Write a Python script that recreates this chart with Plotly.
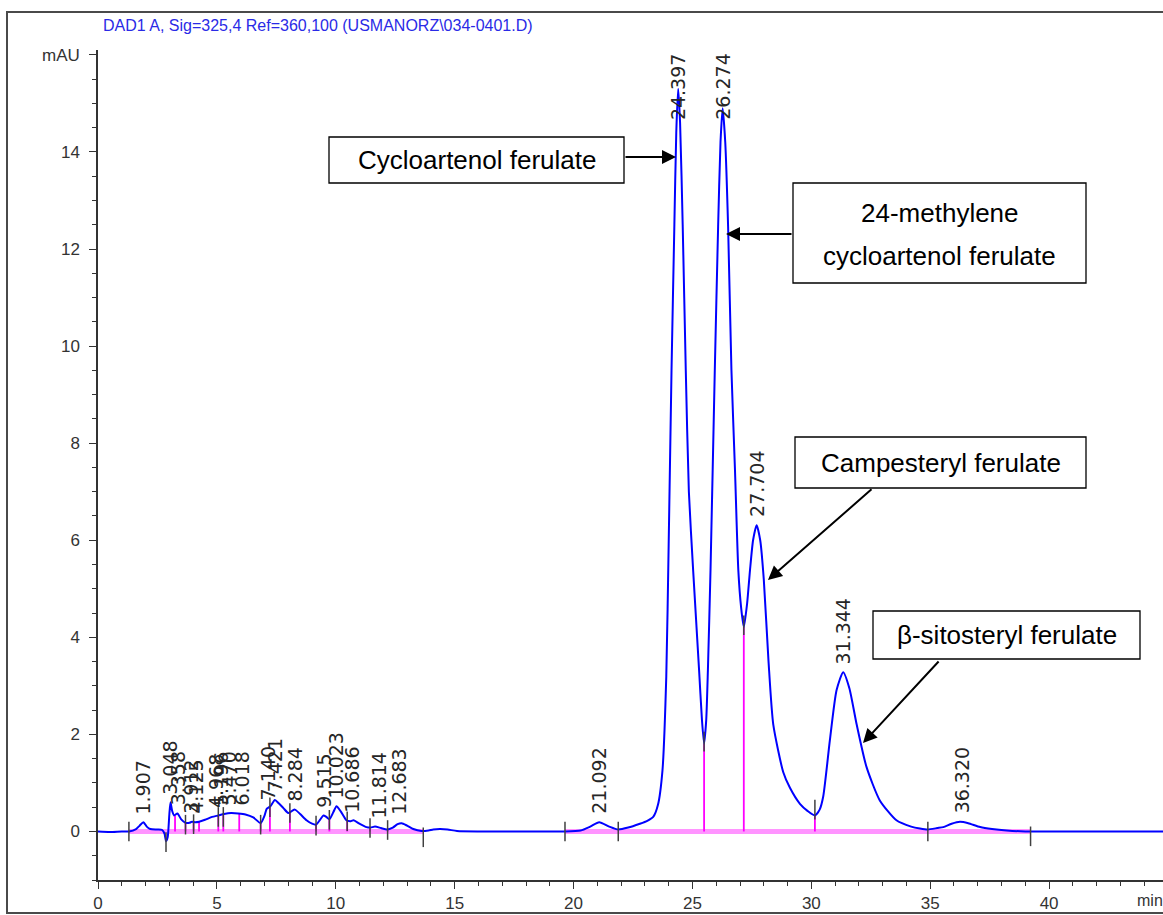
import plotly.graph_objects as go

# ---- chromatogram trace (retention time in min, signal in mAU) ----
time_min = [
    0.0, 0.5, 1.0, 1.3, 1.6, 1.75, 1.91, 2.05, 2.2, 2.5, 2.7, 2.8, 2.86, 2.93,
    3.0, 3.05, 3.12, 3.2, 3.34, 3.5, 3.68, 3.85, 3.95, 4.1, 4.25, 4.5, 4.8,
    5.06, 5.3, 5.6, 5.9, 6.2, 6.53, 6.84, 7.0, 7.1, 7.25, 7.44, 7.6, 7.8, 8.0,
    8.15, 8.28, 8.5, 8.77, 9.0, 9.17, 9.35, 9.48, 9.6, 9.73, 9.9, 10.03, 10.2,
    10.45, 10.6, 10.75, 11.0, 11.29, 11.46, 11.65, 11.9, 12.15, 12.4, 12.6,
    12.77, 13.0, 13.26, 13.6, 13.9, 14.1, 14.38, 14.7, 15.1, 16.0, 17.0, 18.0,
    19.0, 19.6, 20.3, 20.7, 21.08, 21.5, 21.88, 22.3, 22.79, 23.1, 23.35, 23.55,
    23.74, 23.9, 24.0, 24.12, 24.24, 24.32, 24.40, 24.48, 24.59, 24.72, 24.85,
    25.03, 25.28, 25.40, 25.49, 25.58, 25.65, 25.76, 25.94, 26.08, 26.18, 26.27,
    26.38, 26.5, 26.64, 26.79, 26.93, 27.05, 27.16, 27.3, 27.42, 27.55, 27.70,
    27.85, 28.0, 28.2, 28.4, 28.82, 29.1, 29.52, 29.85, 30.15, 30.35, 30.5,
    30.78, 31.06, 31.34, 31.6, 31.9, 32.32, 32.88, 33.58, 34.2, 34.57, 34.9,
    35.3, 35.55, 35.9, 36.25, 36.6, 37.1, 37.6, 38.21, 39.0, 40.0, 42.0, 44.8,
]
signal_mau = [
    0.0, -0.01, 0.0, 0.0, 0.05, 0.12, 0.19, 0.10, 0.05, 0.04, 0.03, -0.05, -0.20, -0.12,
    0.35, 0.60, 0.42, 0.33, 0.37, 0.25, 0.18, 0.18, 0.20, 0.19, 0.20, 0.24, 0.30,
    0.33, 0.36, 0.38, 0.37, 0.35, 0.29, 0.17, 0.32, 0.47, 0.52, 0.65, 0.58, 0.48, 0.38,
    0.42, 0.45, 0.36, 0.23, 0.16, 0.14, 0.25, 0.33, 0.30, 0.25, 0.40, 0.52, 0.42,
    0.23, 0.21, 0.23, 0.16, 0.09, 0.08, 0.10, 0.07, 0.04, 0.08, 0.15,
    0.17, 0.12, 0.05, 0.01, 0.02, 0.04, 0.05, 0.04, 0.01, 0.0, 0.0, 0.0,
    0.0, 0.0, 0.02, 0.10, 0.19, 0.10, 0.04, 0.08, 0.16, 0.22, 0.30, 0.55,
    1.26, 3.2, 5.9, 9.5, 12.5, 14.4, 15.3, 14.6, 12.5, 9.5, 7.0,
    5.38, 3.32, 2.3, 1.81, 2.3, 3.32, 5.38, 9.5, 12.46, 14.2, 14.9,
    14.2, 12.46, 9.5, 7.44, 5.38, 4.6, 4.21, 4.7, 5.38, 6.0, 6.31,
    6.0, 5.2, 3.5, 2.2, 1.22, 0.9, 0.57, 0.42, 0.33, 0.45, 0.72,
    1.88, 2.91, 3.28, 2.95, 2.22, 1.33, 0.64, 0.23, 0.10, 0.06, 0.04,
    0.07, 0.09, 0.16, 0.20, 0.17, 0.09, 0.05, 0.02, 0.0, 0.0, 0.0, 0.0,
]

# ---- integration: baseline segments, peak boundaries, event marks ----
baseline_start = [1.30, 19.64]
baseline_end = [13.68, 39.22]
drop_time = [3.24, 3.68, 4.02, 4.25, 5.06, 5.27, 5.94, 6.84, 7.23, 8.07,
             9.17, 9.73, 10.48, 11.44, 12.18, 25.49, 27.16, 30.15]
drop_height = [0.33, 0.18, 0.19, 0.20, 0.33, 0.36, 0.37, 0.17, 0.50, 0.38,
               0.14, 0.25, 0.23, 0.08, 0.05, 1.81, 4.21, 0.33]
event_time = [1.30, 2.86, 3.68, 4.02, 5.06, 5.27, 6.84, 7.23, 8.07, 9.17, 9.73,
              10.48, 11.44, 12.18, 13.68, 19.64, 21.88, 25.49, 27.16, 30.15,
              34.90, 39.22]
event_level = [0.0, -0.22, 0.14, 0.15, 0.30, 0.30, 0.14, 0.50, 0.38, 0.12, 0.24,
               0.21, 0.07, 0.03, -0.12, 0.0, 0.0, 1.85, 4.25, 0.45, 0.0, -0.10]

# ---- peak retention-time labels ----
peak_rt = [1.907, 3.048, 3.358, 3.912, 4.125, 4.968, 5.196, 5.470, 6.018,
           7.140, 7.421, 8.284, 9.515, 10.023, 10.686, 11.814, 12.683,
           21.092, 24.397, 26.274, 27.704, 31.344, 36.320]
peak_height = [0.19, 0.60, 0.37, 0.20, 0.20, 0.32, 0.35, 0.37, 0.37,
               0.47, 0.65, 0.45, 0.33, 0.52, 0.22, 0.10, 0.17,
               0.19, 15.3, 14.9, 6.31, 3.28, 0.20]

# ---- compound call-outs ----
compound_names = ["Cycloartenol ferulate", "24-methylene<br>cycloartenol ferulate",
                  "Campesteryl ferulate", "β-sitosteryl ferulate"]

y_tick_vals = [0, 2, 4, 6, 8, 10, 12, 14, 16]
y_tick_text = ["0", "2", "4", "6", "8", "10", "12", "14", "mAU"]
x_tick_vals = [0, 5, 10, 15, 20, 25, 30, 35, 40]

# ---- page geometry ----
W, H = 1163, 915
ML, MR, MT, MB = 98, 0, 50, 35
X_RANGE = [0, 44.79]
Y_RANGE = [-1, 16.1]
PW, PH = W - ML - MR, H - MT - MB


def dx(px):
    return X_RANGE[0] + (px - ML) / PW * (X_RANGE[1] - X_RANGE[0])


def dy(py):
    return Y_RANGE[1] - (py - MT) / PH * (Y_RANGE[1] - Y_RANGE[0])


def paper_x(px):
    return (px - ML) / PW


def paper_y(py):
    return 1 - (py - MT) / PH


SANS = "Liberation Sans, Arial, sans-serif"
LABEL_FONT = "DejaVu Sans, sans-serif"

fig = go.Figure()

# integration baseline
bx, by = [], []
for s, e in zip(baseline_start, baseline_end):
    bx += [s, e, None]
    by += [0, 0, None]
fig.add_trace(go.Scatter(x=bx, y=by, mode="lines",
                         line=dict(color="rgba(255,60,255,0.55)", width=5),
                         hoverinfo="skip", showlegend=False))

# peak boundary drop lines
lx, ly = [], []
for t, h in zip(drop_time, drop_height):
    lx += [t, t, None]
    ly += [0, h, None]
fig.add_trace(go.Scatter(x=lx, y=ly, mode="lines",
                         line=dict(color="#ff00ff", width=1.8),
                         hoverinfo="skip", showlegend=False))

# detector signal
fig.add_trace(go.Scatter(x=time_min, y=signal_mau, mode="lines",
                         line=dict(color="#0000ff", width=2, shape="spline", smoothing=0.6),
                         showlegend=False))

# integration event marks
fig.add_trace(go.Scatter(x=event_time, y=event_level, mode="markers",
                         marker=dict(symbol="line-ns", size=14,
                                     line=dict(color="#404040", width=1.5)),
                         hoverinfo="skip", showlegend=False))

annotations = []

# retention-time labels above each peak
for rt, h in zip(peak_rt, peak_height):
    if h > 14:
        annotations.append(dict(x=rt, y=Y_RANGE[1], xref="x", yref="y",
                                text=f"{rt:.3f}", textangle=-90, showarrow=False,
                                xanchor="center", yanchor="top", yshift=-2,
                                font=dict(family=LABEL_FONT, size=19, color="#262626")))
    else:
        annotations.append(dict(x=rt, y=h, xref="x", yref="y",
                                text=f"{rt:.3f}", textangle=-90, showarrow=False,
                                xanchor="center", yanchor="bottom", yshift=6,
                                font=dict(family=LABEL_FONT, size=19, color="#262626")))

# call-out boxes (pixel extents) and their text positions
boxes = [(329, 137, 624, 183), (793, 183, 1086, 283),
         (795, 437, 1086, 488), (873, 611, 1140, 659)]
shapes = []
for (x0, y0, x1, y1), name in zip(boxes, compound_names):
    shapes.append(dict(type="rect", xref="x", yref="y",
                       x0=dx(x0), x1=dx(x1), y0=dy(y1), y1=dy(y0),
                       line=dict(color="black", width=1.3), fillcolor="white", layer="above"))
    lines = name.split("<br>")
    cx = (x0 + x1) / 2
    if len(lines) == 1:
        centers = [(y0 + y1) / 2]
    else:
        centers = [213, 256]
    for txt, cy in zip(lines, centers):
        annotations.append(dict(x=dx(cx), y=dy(cy), xref="x", yref="y", text=txt,
                                showarrow=False, xanchor="center", yanchor="middle",
                                font=dict(family=SANS, size=26, color="black")))

# arrows from call-outs to peaks: (tail px, tip px)
arrows = [((624, 157), (676, 157)), ((793, 234), (726, 234)),
          ((873, 488), (768, 580)), ((940, 660), (863, 743))]
for (tx0, ty0), (tx1, ty1) in arrows:
    annotations.append(dict(x=dx(tx1), y=dy(ty1), ax=dx(tx0), ay=dy(ty0),
                            xref="x", yref="y", axref="x", ayref="y", text="",
                            showarrow=True, arrowhead=2, arrowsize=1.4, arrowwidth=2,
                            arrowcolor="black"))

# header line
annotations.append(dict(x=paper_x(101), y=paper_y(25), xref="paper", yref="paper",
                        text="DAD1 A, Sig=325,4 Ref=360,100 (USMANORZ\\034-0401.D)",
                        showarrow=False, xanchor="left", yanchor="middle",
                        font=dict(family=SANS, size=16, color="#2a2ae6")))
# x-axis unit
annotations.append(dict(x=paper_x(1135), y=paper_y(900), xref="paper", yref="paper",
                        text="min", showarrow=False, xanchor="left", yanchor="middle",
                        font=dict(family=SANS, size=16, color="#333333")))

# outer frame
shapes.append(dict(type="rect", xref="paper", yref="paper",
                   x0=paper_x(7), x1=paper_x(1180), y0=paper_y(913), y1=paper_y(12),
                   line=dict(color="#4a4a4a", width=2), layer="above"))

axis_common = dict(showgrid=False, zeroline=False, showline=True, linecolor="#333333",
                   linewidth=1.5, ticks="outside", ticklen=7, tickwidth=1.3,
                   tickcolor="#333333",
                   tickfont=dict(family=SANS, size=17, color="#333333"))

fig.update_layout(
    width=W, height=H,
    margin=dict(l=ML, r=MR, t=MT, b=MB, pad=0),
    plot_bgcolor="white", paper_bgcolor="white",
    xaxis=dict(range=X_RANGE, tickvals=x_tick_vals,
               minor=dict(dtick=1, ticklen=4, ticks="outside", tickcolor="#333333", tickwidth=1.2),
               **axis_common),
    yaxis=dict(range=Y_RANGE, tickvals=y_tick_vals, ticktext=y_tick_text,
               ticklabelstandoff=6,
               minor=dict(dtick=0.5, ticklen=4, ticks="outside", tickcolor="#333333", tickwidth=1.2),
               **axis_common),
    annotations=annotations,
    shapes=shapes,
)

fig.write_html("out.html")
